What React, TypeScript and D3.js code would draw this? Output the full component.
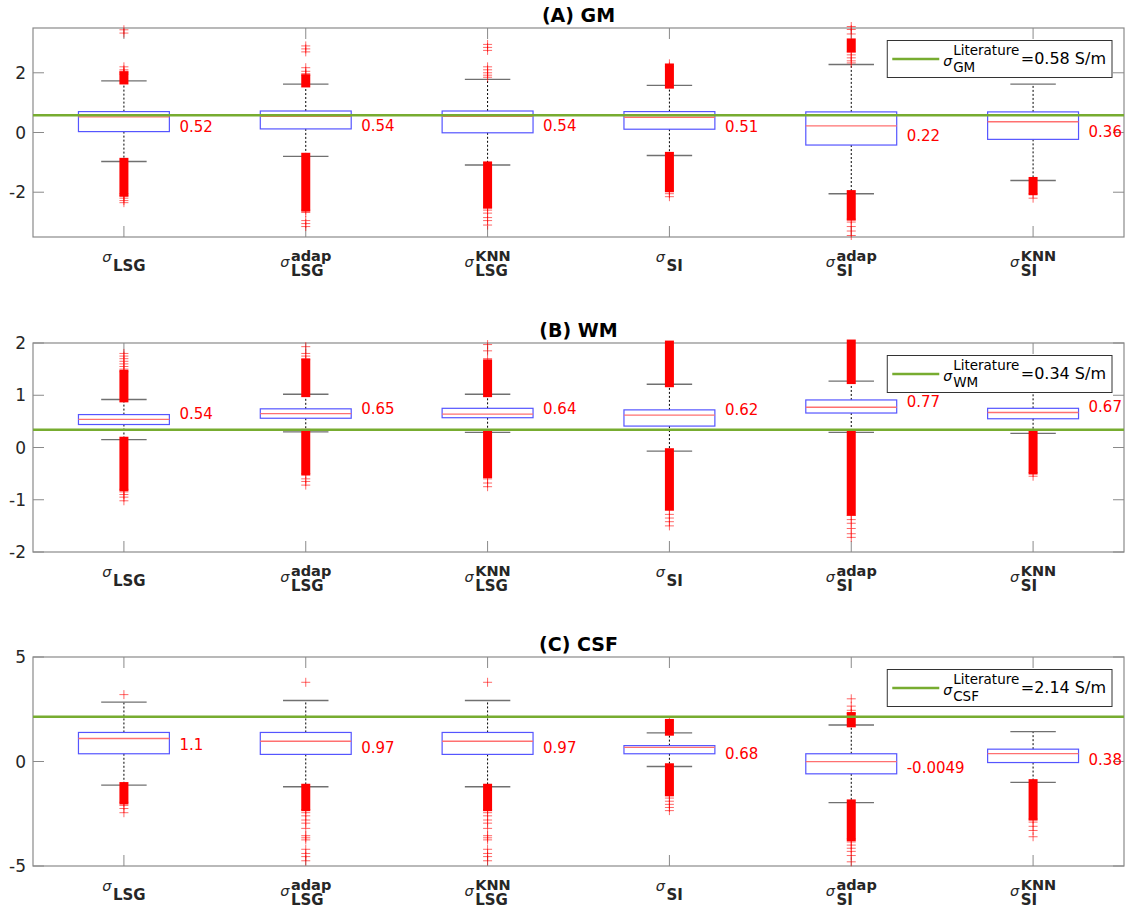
import React, { useEffect, useRef } from "react";
import * as d3 from "d3";

// ---------- categories ----------
const subscripts = ["LSG", "LSG", "LSG", "SI", "SI", "SI"];
const superscripts = ["", "adap", "KNN", "", "adap", "KNN"];

// ---------- Panel A: GM ----------
const gmTitle = "(A) GM";
const gmDomain = [-3.5, 3.5];
const gmTicks = [-2, 0, 2];
const gmQ1 = [0.03, 0.12, -0.01, 0.11, -0.42, -0.23];
const gmMedian = [0.52, 0.54, 0.54, 0.51, 0.22, 0.36];
const gmQ3 = [0.7, 0.72, 0.72, 0.7, 0.69, 0.69];
const gmWhiskerLow = [-0.97, -0.8, -1.09, -0.77, -2.05, -1.61];
const gmWhiskerHigh = [1.73, 1.62, 1.78, 1.58, 2.28, 1.62];
const gmDenseOutliers = [
  [[1.76, 1.9], [-1.0, -2.0]],
  [[1.66, 1.8], [-0.83, -2.5]],
  [[-1.12, -2.4]],
  [[1.62, 2.15], [-0.8, -1.85]],
  [[2.83, 3.0], [-2.08, -2.8]],
  [[-1.64, -1.95]],
];
const gmOutliers = [
  [1.95, 2.0, 2.05, 2.1, 2.2, 3.33, 3.44, -2.05, -2.12, -2.2, -2.28, -2.35],
  [1.92, 1.97, 2.05, 2.17, 2.7, 2.8, 2.9, -2.6, -2.68, -2.95, -3.05, -3.15],
  [1.85, 1.92, 2.0, 2.1, 2.2, 2.75, 2.85, 2.95, -2.5, -2.6, -2.7, -2.85, -2.95, -3.1],
  [2.2, 2.3, -1.95, -2.05, -2.15],
  [2.33, 2.4, 2.5, 2.6, 2.7, 3.3, 3.45, 3.55, -2.9, -3.0, -3.15, -3.3, -3.45],
  [-2.05, -2.2],
];
const gmMedianLabels = ["0.52", "0.54", "0.54", "0.51", "0.22", "0.36"];
const gmLiterature = 0.58;
const gmLegendSub = "GM";
const gmLegendValue = "=0.58 S/m";

// ---------- Panel B: WM ----------
const wmTitle = "(B) WM";
const wmDomain = [-2, 2];
const wmTicks = [-2, -1, 0, 1, 2];
const wmQ1 = [0.44, 0.56, 0.57, 0.41, 0.66, 0.55];
const wmMedian = [0.54, 0.65, 0.64, 0.62, 0.77, 0.67];
const wmQ3 = [0.63, 0.74, 0.75, 0.72, 0.91, 0.75];
const wmWhiskerLow = [0.15, 0.3, 0.29, -0.07, 0.29, 0.27];
const wmWhiskerHigh = [0.92, 1.02, 1.02, 1.21, 1.27, 1.06];
const wmDenseOutliers = [
  [[0.95, 1.4], [0.12, -0.75]],
  [[1.05, 1.62], [0.27, -0.45]],
  [[1.05, 1.6], [0.26, -0.5]],
  [[1.24, 1.96], [-0.1, -1.12]],
  [[1.3, 1.98], [0.26, -1.22]],
  [[0.24, -0.43]],
];
const wmOutliers = [
  [1.45, 1.5, 1.55, 1.6, 1.65, 1.7, 1.75, 1.8, -0.8, -0.85, -0.9, -0.95, -1.02],
  [1.68, 1.75, 1.8, 1.93, -0.5, -0.6, -0.65, -0.72],
  [1.7, 1.85, 1.97, -0.6, -0.68, -0.75],
  [-1.2, -1.28, -1.35, -1.42, -1.5],
  [-1.3, -1.38, -1.45, -1.55, -1.65, -1.72],
  [-0.48, -0.55],
];
const wmMedianLabels = ["0.54", "0.65", "0.64", "0.62", "0.77", "0.67"];
const wmLiterature = 0.34;
const wmLegendSub = "WM";
const wmLegendValue = "=0.34 S/m";

// ---------- Panel C: CSF ----------
const csfTitle = "(C) CSF";
const csfDomain = [-5, 5];
const csfTicks = [-5, 0, 5];
const csfQ1 = [0.37, 0.34, 0.34, 0.37, -0.59, -0.05];
const csfMedian = [1.1, 0.97, 0.97, 0.68, -0.0049, 0.38];
const csfQ3 = [1.39, 1.39, 1.39, 0.76, 0.37, 0.59];
const csfWhiskerLow = [-1.13, -1.21, -1.21, -0.24, -1.97, -1.0];
const csfWhiskerHigh = [2.84, 2.92, 2.92, 1.37, 1.75, 1.43];
const csfDenseOutliers = [
  [[-1.2, -1.84]],
  [[-1.28, -2.16]],
  [[-1.28, -2.16]],
  [[1.45, 1.82], [-0.3, -1.45]],
  [[1.85, 2.15], [-2.03, -3.6]],
  [[-1.06, -2.61]],
];
const csfOutliers = [
  [3.2, -1.95, -2.1, -2.25, -2.45],
  [3.79, -2.3, -2.45, -2.6, -2.8, -2.95, -3.2, -3.55, -3.65, -3.75, -4.2, -4.4, -4.55, -4.75],
  [3.79, -2.3, -2.45, -2.6, -2.8, -2.95, -3.2, -3.55, -3.65, -3.75, -4.2, -4.4, -4.55, -4.75],
  [1.94, -1.6, -1.75, -1.9, -2.05, -2.2, -2.35],
  [2.3, 2.45, 2.65, 3.0, -3.7, -3.85, -4.0, -4.15, -4.3, -4.5, -4.8],
  [-2.75, -2.9, -3.1, -3.3, -3.6],
];
const csfMedianLabels = ["1.1", "0.97", "0.97", "0.68", "-0.0049", "0.38"];
const csfLiterature = 2.14;
const csfLegendSub = "CSF";
const csfLegendValue = "=2.14 S/m";

const panels = [
  { title: gmTitle, domain: gmDomain, ticks: gmTicks, q1: gmQ1, med: gmMedian, q3: gmQ3, wl: gmWhiskerLow, wh: gmWhiskerHigh, dense: gmDenseOutliers, out: gmOutliers, labels: gmMedianLabels, lit: gmLiterature, legSub: gmLegendSub, legVal: gmLegendValue, top: 28, labelDy: 10 },
  { title: wmTitle, domain: wmDomain, ticks: wmTicks, q1: wmQ1, med: wmMedian, q3: wmQ3, wl: wmWhiskerLow, wh: wmWhiskerHigh, dense: wmDenseOutliers, out: wmOutliers, labels: wmMedianLabels, lit: wmLiterature, legSub: wmLegendSub, legVal: wmLegendValue, top: 343, labelDy: -5 },
  { title: csfTitle, domain: csfDomain, ticks: csfTicks, q1: csfQ1, med: csfMedian, q3: csfQ3, wl: csfWhiskerLow, wh: csfWhiskerHigh, dense: csfDenseOutliers, out: csfOutliers, labels: csfMedianLabels, lit: csfLiterature, legSub: csfLegendSub, legVal: csfLegendValue, top: 657, labelDy: 6.5 },
];

const FONT = "'DejaVu Sans', sans-serif";
const LEFT = 33;
const RIGHT = 1124;
const H = 209;
const AXIS = "#8a8a8a";
const GREEN = "#77AC30";

export default function App() {
  const ref = useRef<SVGSVGElement | null>(null);

  useEffect(() => {
    const svg = d3.select(ref.current);
    svg.selectAll("*").remove();

    const x = d3.scaleLinear().domain([0.5, 6.5]).range([LEFT, RIGHT]);
    const halfBox = x(1.25) - x(1);
    const halfCap = x(1.125) - x(1);
    const mk = 4.5;

    panels.forEach((p) => {
      const top = p.top;
      const bottom = top + H;
      const y = d3.scaleLinear().domain(p.domain).range([bottom, top]);
      const g = svg.append("g");

      // title
      g.append("text")
        .attr("x", (LEFT + RIGHT) / 2)
        .attr("y", top - 6)
        .attr("text-anchor", "middle")
        .attr("font-family", FONT)
        .attr("font-weight", "bold")
        .attr("font-size", 19)
        .attr("fill", "#000")
        .text(p.title);

      // frame
      g.append("rect")
        .attr("x", LEFT).attr("y", top)
        .attr("width", RIGHT - LEFT).attr("height", H)
        .attr("fill", "white").attr("stroke", AXIS).attr("stroke-width", 1.2);

      // y ticks
      p.ticks.forEach((t) => {
        const yy = y(t);
        g.append("line").attr("x1", LEFT).attr("x2", LEFT + 11).attr("y1", yy).attr("y2", yy).attr("stroke", AXIS);
        g.append("line").attr("x1", RIGHT - 11).attr("x2", RIGHT).attr("y1", yy).attr("y2", yy).attr("stroke", AXIS);
        g.append("text")
          .attr("x", LEFT - 7).attr("y", yy)
          .attr("text-anchor", "end").attr("dominant-baseline", "central")
          .attr("font-family", FONT).attr("font-size", 17).attr("fill", "#262626")
          .text(String(t));
      });

      // x ticks
      d3.range(1, 7).forEach((c) => {
        const xx = x(c);
        g.append("line").attr("x1", xx).attr("x2", xx).attr("y1", bottom).attr("y2", bottom - 11).attr("stroke", AXIS);
        g.append("line").attr("x1", xx).attr("x2", xx).attr("y1", top).attr("y2", top + 11).attr("stroke", AXIS);
      });

      // boxes
      d3.range(6).forEach((i) => {
        const cx = x(i + 1);
        // whiskers
        g.append("line").attr("x1", cx).attr("x2", cx).attr("y1", y(p.q3[i])).attr("y2", y(p.wh[i]))
          .attr("stroke", "#000").attr("stroke-width", 1).attr("stroke-dasharray", "2,2");
        g.append("line").attr("x1", cx).attr("x2", cx).attr("y1", y(p.q1[i])).attr("y2", y(p.wl[i]))
          .attr("stroke", "#000").attr("stroke-width", 1).attr("stroke-dasharray", "2,2");
        // caps
        [p.wh[i], p.wl[i]].forEach((v) => {
          g.append("line").attr("x1", cx - halfCap).attr("x2", cx + halfCap).attr("y1", y(v)).attr("y2", y(v))
            .attr("stroke", "#707070").attr("stroke-width", 1.4);
        });
        // box
        g.append("rect")
          .attr("x", cx - halfBox).attr("y", y(p.q3[i]))
          .attr("width", 2 * halfBox).attr("height", y(p.q1[i]) - y(p.q3[i]))
          .attr("fill", "none").attr("stroke", "#5555ff").attr("stroke-width", 1.2);
        // median
        g.append("line").attr("x1", cx - halfBox).attr("x2", cx + halfBox)
          .attr("y1", y(p.med[i])).attr("y2", y(p.med[i]))
          .attr("stroke", "#ff7070").attr("stroke-width", 1.3);
        // dense outlier bands
        p.dense[i].forEach(([a, b]) => {
          const y1 = Math.min(y(a), y(b)) - mk;
          const y2 = Math.max(y(a), y(b)) + mk;
          g.append("rect").attr("x", cx - mk).attr("y", y1).attr("width", 2 * mk).attr("height", y2 - y1)
            .attr("fill", "#ff0000");
        });
        // sparse outliers
        p.out[i].forEach((v) => {
          const yy = y(v);
          g.append("path")
            .attr("d", `M${cx - mk},${yy}H${cx + mk}M${cx},${yy - mk}V${yy + mk}`)
            .attr("stroke", "#ff0000").attr("stroke-width", 1).attr("stroke-opacity", 0.6).attr("fill", "none");
        });
        // median label
        g.append("text")
          .attr("x", cx + halfBox + 10).attr("y", y(p.med[i]) + p.labelDy)
          .attr("dominant-baseline", "central")
          .attr("font-family", FONT).attr("font-size", 15).attr("fill", "#ff0000")
          .text(p.labels[i]);
      });

      // literature line
      g.append("line").attr("x1", LEFT).attr("x2", RIGHT).attr("y1", y(p.lit)).attr("y2", y(p.lit))
        .attr("stroke", GREEN).attr("stroke-width", 2.4);

      // x labels
      d3.range(6).forEach((i) => {
        const cx = x(i + 1);
        const lg = g.append("g");
        const hasSup = superscripts[i] !== "";
        const sig = lg.append("text").attr("font-family", FONT).attr("font-size", 14.5).attr("font-style", "italic").attr("fill", "#262626").text("σ");
        const sub = lg.append("text").attr("font-family", FONT).attr("font-size", 15).attr("font-weight", "bold").attr("fill", "#262626").text(subscripts[i]);
        let sup: any = null;
        if (hasSup) sup = lg.append("text").attr("font-family", FONT).attr("font-size", 14.5).attr("font-weight", "bold").attr("fill", "#262626").text(superscripts[i]);
        const sw = (sig.node() as SVGTextElement).getComputedTextLength();
        const bw = Math.max((sub.node() as SVGTextElement).getComputedTextLength(), sup ? (sup.node() as SVGTextElement).getComputedTextLength() : 0);
        const total = sw + 1.5 + bw;
        const x0 = cx - total / 2;
        sig.attr("x", x0).attr("y", bottom + (hasSup ? 30 : 25));
        sub.attr("x", x0 + sw + 1.5).attr("y", bottom + (hasSup ? 39 : 33.5));
        if (sup) sup.attr("x", x0 + sw + 1.5).attr("y", bottom + 23.5);
      });

      // legend
      const leg = g.append("g");
      const lsig = leg.append("text").attr("font-family", FONT).attr("font-size", 14).attr("font-style", "italic").attr("fill", "#000").text("σ");
      const lsup = leg.append("text").attr("font-family", FONT).attr("font-size", 13.5).attr("fill", "#000").text("Literature");
      const lsub = leg.append("text").attr("font-family", FONT).attr("font-size", 13.5).attr("fill", "#000").text(p.legSub);
      const lval = leg.append("text").attr("font-family", FONT).attr("font-size", 16).attr("fill", "#000").text(p.legVal);
      const supW = Math.max((lsup.node() as SVGTextElement).getComputedTextLength(), (lsub.node() as SVGTextElement).getComputedTextLength());
      const valW = (lval.node() as SVGTextElement).getComputedTextLength();
      const sigW = (lsig.node() as SVGTextElement).getComputedTextLength();
      const lineEnd = 52;
      const supX = lineEnd + 4 + sigW + 1;
      const w = supX + supW + 1.5 + valW + 6;
      const lx = RIGHT - 12 - w;
      const ly = top + 12.5;
      leg.insert("rect", ":first-child")
        .attr("x", lx).attr("y", ly).attr("width", w).attr("height", 37)
        .attr("fill", "white").attr("stroke", "#333").attr("stroke-width", 1);
      leg.append("line").attr("x1", lx + 5).attr("x2", lx + lineEnd).attr("y1", ly + 18.5).attr("y2", ly + 18.5)
        .attr("stroke", GREEN).attr("stroke-width", 2.4);
      lsig.attr("x", lx + lineEnd + 4).attr("y", ly + 25);
      lsup.attr("x", lx + supX).attr("y", ly + 14);
      lsub.attr("x", lx + supX).attr("y", ly + 31);
      lval.attr("x", lx + supX + supW + 1.5).attr("y", ly + 23.5);
    });
  }, []);

  return (
    <svg
      ref={ref}
      width={1128}
      height={910}
      style={{ position: "absolute", left: 0, top: 0, display: "block", background: "white" }}
    />
  );
}
